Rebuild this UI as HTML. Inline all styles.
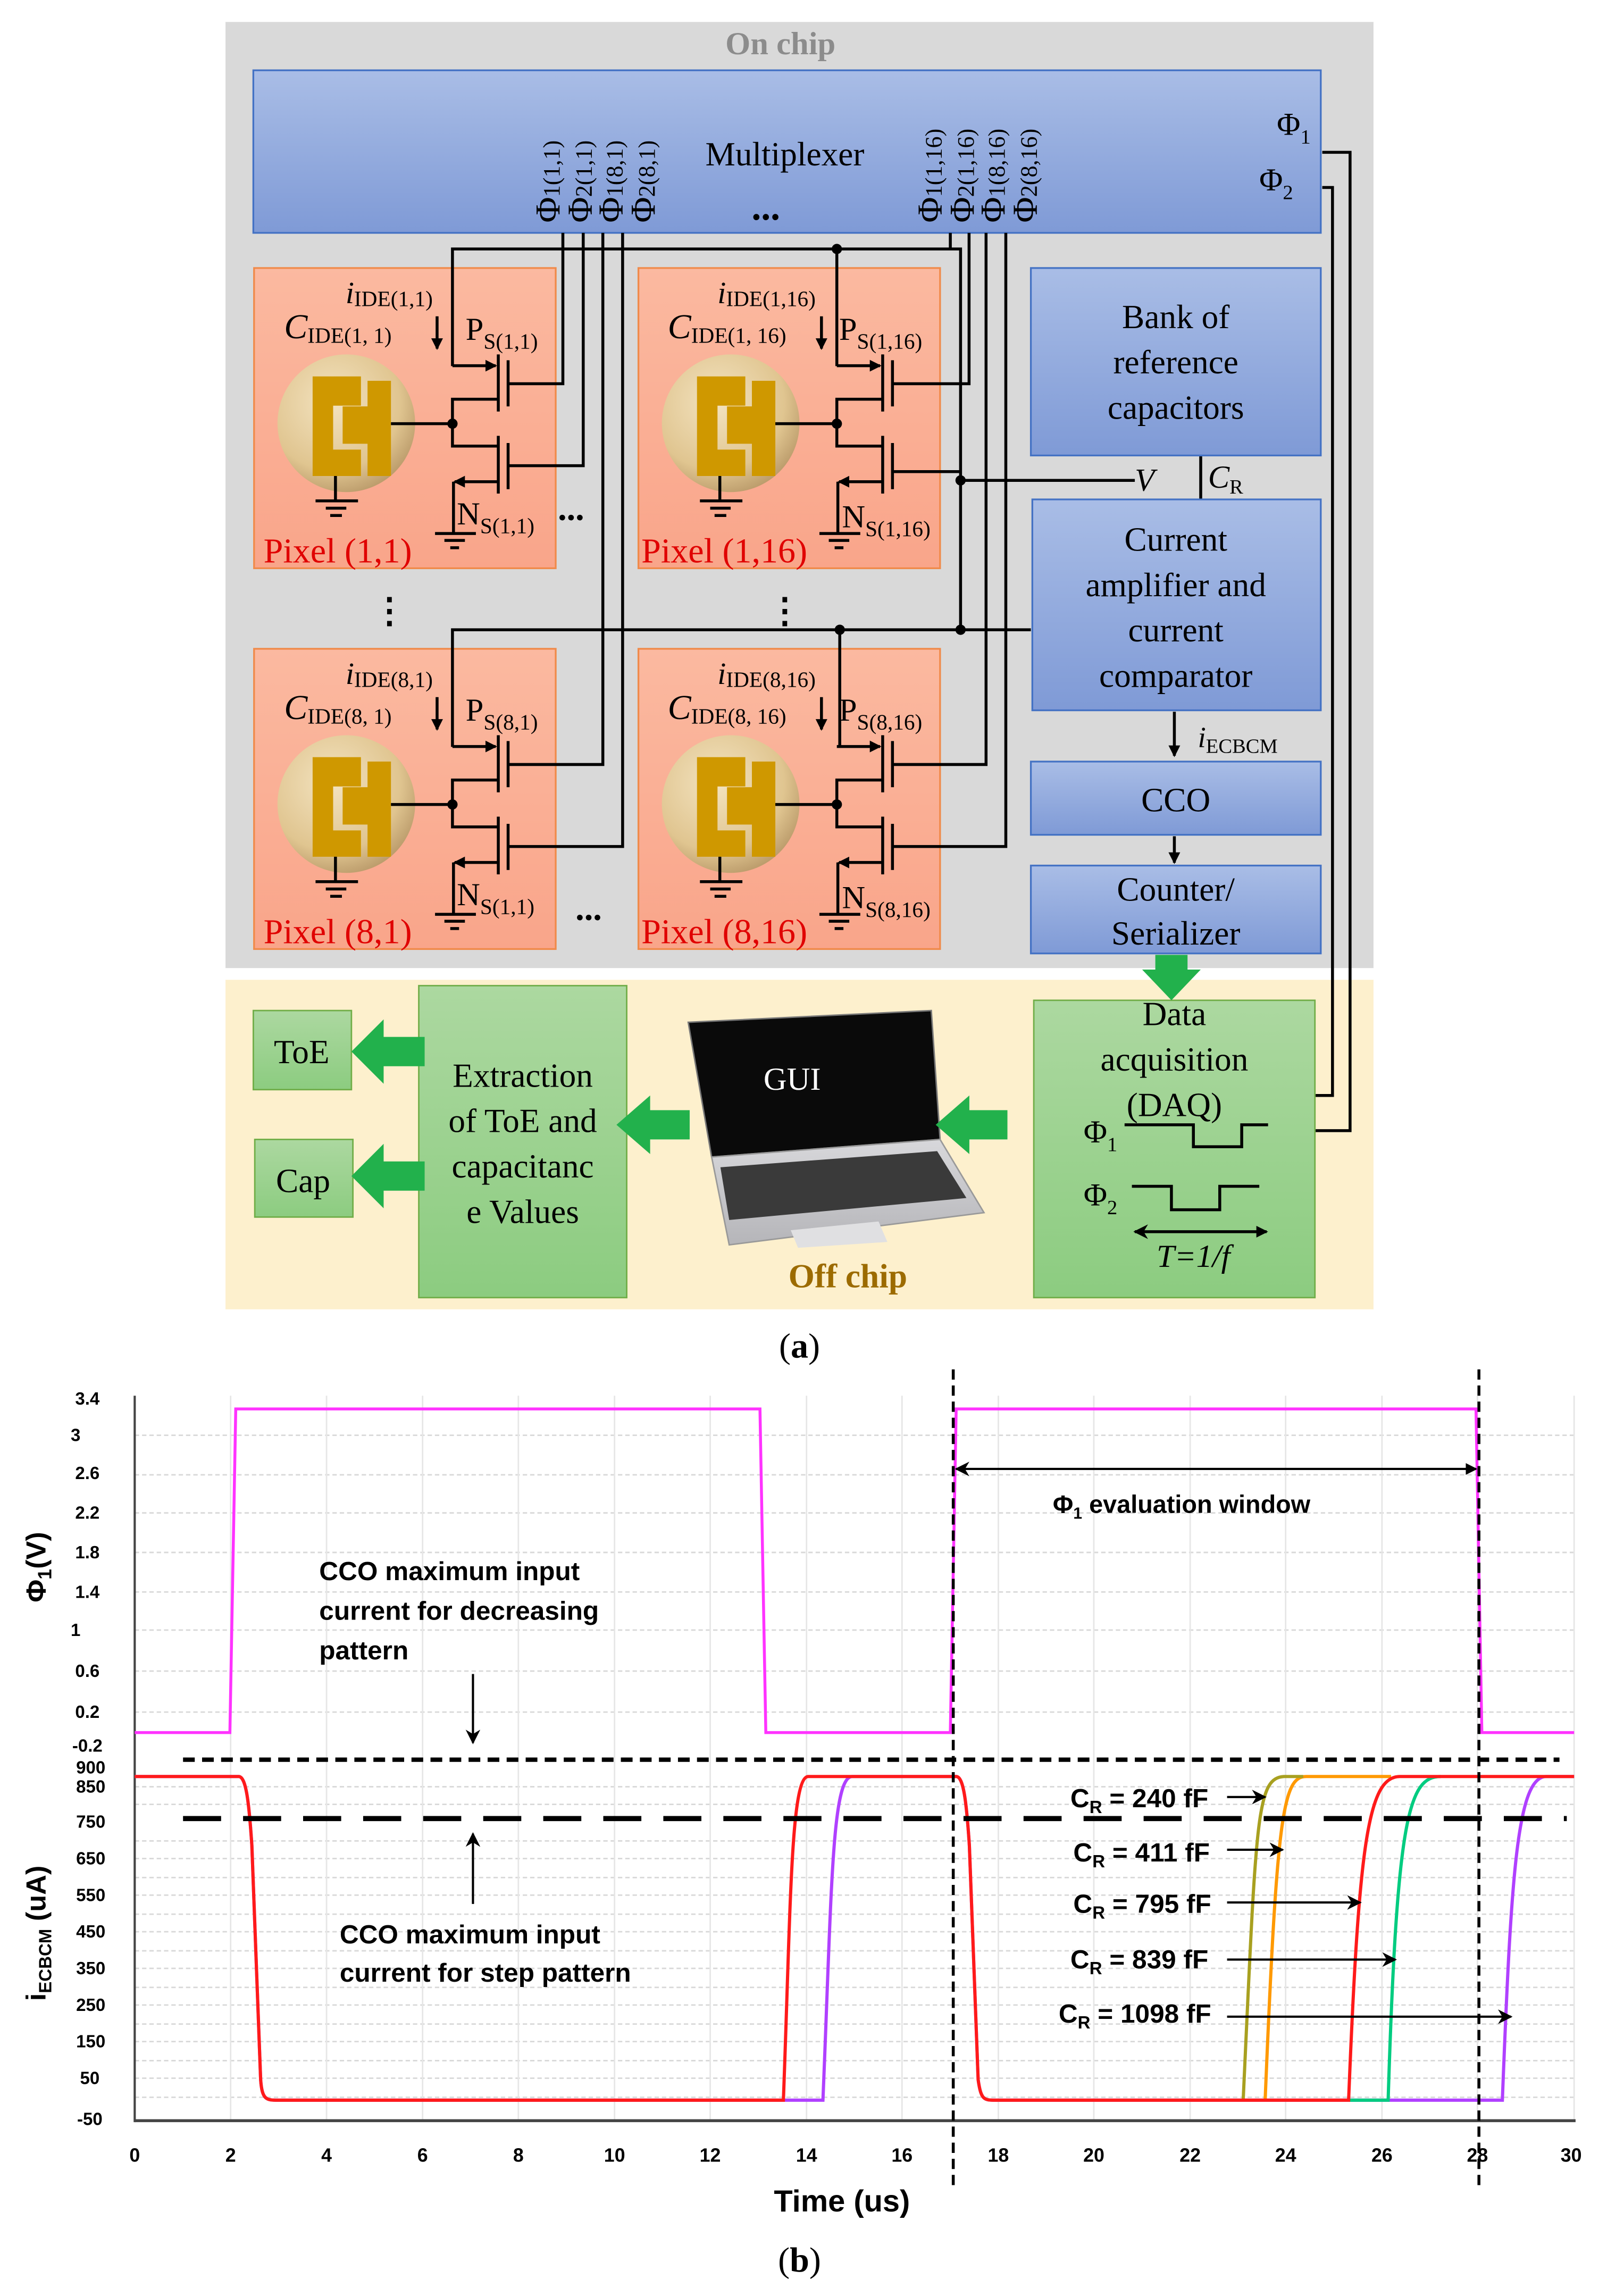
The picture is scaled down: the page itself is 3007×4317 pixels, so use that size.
<!DOCTYPE html>
<html><head><meta charset="utf-8"><style>
html,body{margin:0;padding:0;background:#fff}
svg{display:block}
.s{font-family:"Liberation Serif",serif}
.b{font-family:"Liberation Sans",sans-serif;font-weight:bold}
</style></head><body>
<svg width="3007" height="4317" viewBox="0 0 1092 1567.7" preserveAspectRatio="none" xmlns="http://www.w3.org/2000/svg">
<defs>
<linearGradient id="blue" x1="0" y1="0" x2="0" y2="1"><stop offset="0" stop-color="#a9bde6"/><stop offset="1" stop-color="#7f9ad6"/></linearGradient>
<linearGradient id="pix" x1="0" y1="0" x2="0" y2="1"><stop offset="0" stop-color="#fbb9a0"/><stop offset="1" stop-color="#f9a58a"/></linearGradient>
<linearGradient id="grn" x1="0" y1="0" x2="0" y2="1"><stop offset="0" stop-color="#acd8a0"/><stop offset="1" stop-color="#8ccc80"/></linearGradient>
<linearGradient id="silver" x1="0" y1="0" x2="0" y2="1"><stop offset="0" stop-color="#d8d8db"/><stop offset="1" stop-color="#b5b5b9"/></linearGradient>
<radialGradient id="gold" cx="0.4" cy="0.35" r="0.7"><stop offset="0" stop-color="#f3e3c0"/><stop offset="0.7" stop-color="#e0c590"/><stop offset="1" stop-color="#b89868"/></radialGradient>
<marker id="ar" markerWidth="8" markerHeight="8" refX="7" refY="4" orient="auto" markerUnits="userSpaceOnUse"><path d="M0,0 L8,4 L0,8 Z" fill="#000"/></marker>
<marker id="ar2" markerWidth="10" markerHeight="10" refX="9" refY="5" orient="auto" markerUnits="userSpaceOnUse"><path d="M0,0 L10,5 L0,10 L3,5 Z" fill="#000"/></marker>
<marker id="arS" markerWidth="10" markerHeight="10" refX="1" refY="5" orient="auto" markerUnits="userSpaceOnUse"><path d="M10,0 L0,5 L10,10 L7,5 Z" fill="#000"/></marker>
<g id="pixel">
<rect x="0" y="0" width="206" height="205" fill="url(#pix)" stroke="#f08a4a" stroke-width="1.2"/>
<circle cx="63" cy="106" r="47" fill="url(#gold)"/>
<path d="M40,74 H73 V94 H54 V124 H73 V142 H40 Z" fill="#cf9800"/>
<path d="M77.5,77 H93.5 V142 H77.5 V120 H60.5 V94.5 H77.5 Z" fill="#cf9800"/>
<g stroke="#000" stroke-width="2" fill="none">
<line x1="93.5" y1="106.3" x2="135.5" y2="106.3"/>
<polyline points="166.8,89.6 135.5,89.6 135.5,121.6 166.8,121.6"/>
<line x1="166.8" y1="59" x2="166.8" y2="98"/>
<line x1="173.5" y1="63" x2="173.5" y2="94.5"/>
<line x1="166.8" y1="114.6" x2="166.8" y2="154"/>
<line x1="173.5" y1="119.5" x2="173.5" y2="151"/>
<line x1="135.5" y1="66.7" x2="165" y2="66.7" marker-end="url(#ar)"/>
<line x1="166.8" y1="145.9" x2="137" y2="145.9" marker-end="url(#ar)"/>
<line x1="136.2" y1="145.9" x2="136.2" y2="181.3"/>
<line x1="123.6" y1="181.3" x2="151.5" y2="181.3"/>
<line x1="130" y1="186" x2="144" y2="186"/>
<line x1="134" y1="191" x2="140" y2="191"/>
<line x1="55.6" y1="142" x2="55.6" y2="159"/>
<line x1="42" y1="159" x2="71" y2="159"/>
<line x1="49" y1="164" x2="63" y2="164"/>
<line x1="52" y1="169" x2="60" y2="169"/>
<line x1="125" y1="33" x2="125" y2="55" marker-end="url(#ar)"/>
</g>
<circle cx="135.5" cy="106.3" r="3.5" fill="#000"/>
</g>
</defs>

<!-- On chip -->
<rect x="154" y="15" width="784" height="646" fill="#d9d9d9"/>
<text x="533" y="37" class="s" font-size="22" font-weight="bold" fill="#8c8c8c" text-anchor="middle">On chip</text>
<rect x="173" y="48" width="729" height="111" fill="url(#blue)" stroke="#4472c4" stroke-width="1.2"/>
<text x="536" y="113" class="s" font-size="23" text-anchor="middle">Multiplexer</text>
<text x="523" y="150" class="s" font-size="26" font-weight="bold" text-anchor="middle">...</text>
<text x="872" y="92" class="s" font-size="22">Φ<tspan font-size="14" dy="6">1</tspan></text>
<text x="860" y="130" class="s" font-size="22">Φ<tspan font-size="14" dy="6">2</tspan></text>
<g class="s" font-size="24">
<text transform="translate(382,152) rotate(-90)">Φ<tspan font-size="16">1(1,1)</tspan></text>
<text transform="translate(404,152) rotate(-90)">Φ<tspan font-size="16">2(1,1)</tspan></text>
<text transform="translate(425,152) rotate(-90)">Φ<tspan font-size="16">1(8,1)</tspan></text>
<text transform="translate(447,152) rotate(-90)">Φ<tspan font-size="16">2(8,1)</tspan></text>
<text transform="translate(643,152) rotate(-90)">Φ<tspan font-size="16">1(1,16)</tspan></text>
<text transform="translate(665,152) rotate(-90)">Φ<tspan font-size="16">2(1,16)</tspan></text>
<text transform="translate(686,152) rotate(-90)">Φ<tspan font-size="16">1(8,16)</tspan></text>
<text transform="translate(708,152) rotate(-90)">Φ<tspan font-size="16">2(8,16)</tspan></text>
</g>

<!-- pixels -->
<use href="#pixel" x="173.5" y="183"/>
<use href="#pixel" x="436" y="183"/>
<use href="#pixel" x="173.5" y="443"/>
<use href="#pixel" x="436" y="443"/>

<!-- Off chip background -->
<rect x="154" y="669" width="784" height="225" fill="#fdf0cd"/>

<!-- wiring -->
<g stroke="#000" stroke-width="2" fill="none">
<polyline points="309,250 309,170 656,170 656,430"/>
<polyline points="571.5,170 571.5,250"/>
<polyline points="309,510 309,430 704,430"/>
<polyline points="573.5,430 573.5,510"/>
<polyline points="656,328 775,328"/>
<polyline points="610,322 656,322"/>
<polyline points="347,262 384.4,262 384.4,159"/>
<polyline points="347,318 398.3,318 398.3,159"/>
<polyline points="347,522 411.7,522 411.7,159"/>
<polyline points="347,578 425.2,578 425.2,159"/>
<polyline points="609.5,262 661.8,262 661.8,159"/>
<polyline points="649,159 649,170"/>
<polyline points="609.5,522 673.4,522 673.4,159"/>
<polyline points="609.5,578 686.9,578 686.9,159"/>
<polyline points="903,104 922,104 922,772 898,772"/>
<polyline points="903,128 910,128 910,748 898,748"/>
<line x1="820" y1="311" x2="820" y2="341"/>
<line x1="802" y1="486" x2="802" y2="516" marker-end="url(#ar)"/>
<line x1="802" y1="571" x2="802" y2="589" marker-end="url(#ar)"/>
</g>
<circle cx="571.5" cy="170" r="3.5"/><circle cx="656" cy="328" r="3.5"/><circle cx="573.5" cy="430" r="3.5"/><circle cx="656" cy="430" r="3.5"/>

<!-- pixel texts -->
<g class="s" font-size="18">
<text x="236" y="207"><tspan font-style="italic" font-size="21">i</tspan><tspan font-size="15" dy="2">IDE(1,1)</tspan></text>
<text x="194" y="231"><tspan font-style="italic" font-size="24">C</tspan><tspan font-size="15" dy="3">IDE(1, 1)</tspan></text>
<text x="318" y="232"><tspan font-size="22">P</tspan><tspan font-size="15" dy="6">S(1,1)</tspan></text>
<text x="312" y="358"><tspan font-size="22">N</tspan><tspan font-size="15" dy="6">S(1,1)</tspan></text>
<text x="180" y="384" fill="#e00000" font-size="24">Pixel (1,1)</text>
<text x="490" y="207"><tspan font-style="italic" font-size="21">i</tspan><tspan font-size="15" dy="2">IDE(1,16)</tspan></text>
<text x="456" y="231"><tspan font-style="italic" font-size="24">C</tspan><tspan font-size="15" dy="3">IDE(1, 16)</tspan></text>
<text x="573" y="232"><tspan font-size="22">P</tspan><tspan font-size="15" dy="6">S(1,16)</tspan></text>
<text x="575" y="360"><tspan font-size="22">N</tspan><tspan font-size="15" dy="6">S(1,16)</tspan></text>
<text x="438" y="384" fill="#e00000" font-size="24">Pixel (1,16)</text>
<text x="236" y="467"><tspan font-style="italic" font-size="21">i</tspan><tspan font-size="15" dy="2">IDE(8,1)</tspan></text>
<text x="194" y="491"><tspan font-style="italic" font-size="24">C</tspan><tspan font-size="15" dy="3">IDE(8, 1)</tspan></text>
<text x="318" y="492"><tspan font-size="22">P</tspan><tspan font-size="15" dy="6">S(8,1)</tspan></text>
<text x="312" y="618"><tspan font-size="22">N</tspan><tspan font-size="15" dy="6">S(1,1)</tspan></text>
<text x="180" y="644" fill="#e00000" font-size="24">Pixel (8,1)</text>
<text x="490" y="467"><tspan font-style="italic" font-size="21">i</tspan><tspan font-size="15" dy="2">IDE(8,16)</tspan></text>
<text x="456" y="491"><tspan font-style="italic" font-size="24">C</tspan><tspan font-size="15" dy="3">IDE(8, 16)</tspan></text>
<text x="573" y="492"><tspan font-size="22">P</tspan><tspan font-size="15" dy="6">S(8,16)</tspan></text>
<text x="575" y="620"><tspan font-size="22">N</tspan><tspan font-size="15" dy="6">S(8,16)</tspan></text>
<text x="438" y="644" fill="#e00000" font-size="24">Pixel (8,16)</text>
</g>
<g class="s" font-size="24" font-weight="bold">
<text x="381" y="355">...</text><text x="393" y="628">...</text>
<text x="266" y="425" text-anchor="middle">⋮</text><text x="536" y="425" text-anchor="middle">⋮</text>
</g>

<!-- right blocks -->
<rect x="704" y="183" width="198" height="128" fill="url(#blue)" stroke="#4472c4" stroke-width="1.2"/>
<rect x="705" y="341" width="197" height="144" fill="url(#blue)" stroke="#4472c4" stroke-width="1.2"/>
<rect x="704" y="520" width="198" height="50" fill="url(#blue)" stroke="#4472c4" stroke-width="1.2"/>
<rect x="704" y="591" width="198" height="60" fill="url(#blue)" stroke="#4472c4" stroke-width="1.2"/>
<g class="s" font-size="23" text-anchor="middle">
<text x="803" y="224">Bank of</text><text x="803" y="255">reference</text><text x="803" y="286">capacitors</text>
<text x="803" y="376">Current</text><text x="803" y="407">amplifier and</text><text x="803" y="438">current</text><text x="803" y="469">comparator</text>
<text x="803" y="554">CCO</text>
<text x="803" y="615">Counter/</text><text x="803" y="645">Serializer</text>
</g>
<text x="775" y="335" class="s" font-size="22" font-style="italic">V</text>
<text x="825" y="333" class="s" font-size="22" font-style="italic">C<tspan font-size="14" dy="4" font-style="normal">R</tspan></text>
<text x="818" y="510" class="s" font-size="20" font-style="italic">i<tspan font-size="14" dy="4" font-style="normal">ECBCM</tspan></text>

<!-- Off chip boxes -->
<rect x="173" y="690" width="67" height="54" fill="url(#grn)" stroke="#70ad47"/>
<rect x="174" y="778" width="67" height="53" fill="url(#grn)" stroke="#70ad47"/>
<rect x="286" y="673" width="142" height="213" fill="url(#grn)" stroke="#70ad47"/>
<rect x="706" y="683" width="192" height="203" fill="url(#grn)" stroke="#70ad47"/>
<!-- laptop -->
<polygon points="470,698 636,690 642,778 486,790" fill="#0a0a0a" stroke="#777" stroke-width="1"/>
<polygon points="486,790 642,778 672,828 498,850" fill="url(#silver)" stroke="#999"/>
<polygon points="492,797 640,786 660,818 498,833" fill="#3a3a3a"/>
<polygon points="540,840 600,834 606,848 545,852" fill="#e0e0e2"/>
<text x="541" y="744" class="s" font-size="22" fill="#fff" text-anchor="middle">GUI</text>
<g class="s" font-size="23" text-anchor="middle">
<text x="206" y="726">ToE</text><text x="207" y="814">Cap</text>
<text x="357" y="742">Extraction</text><text x="357" y="773">of ToE and</text><text x="357" y="804">capacitanc</text><text x="357" y="835">e Values</text>
<text x="802" y="700">Data</text><text x="802" y="731">acquisition</text><text x="802" y="762">(DAQ)</text>
<text x="579" y="879" fill="#9c6b00" font-weight="bold">Off chip</text>
</g>
<text x="740" y="780" class="s" font-size="22">Φ<tspan font-size="14" dy="6">1</tspan></text>
<text x="740" y="823" class="s" font-size="22">Φ<tspan font-size="14" dy="6">2</tspan></text>
<g stroke="#000" stroke-width="2" fill="none">
<polyline points="768,768 815,768 815,783 848,783 848,768 866,768"/>
<polyline points="773,810 800,810 800,826 833,826 833,810 860,810"/>
<line x1="775" y1="841" x2="865" y2="841" marker-end="url(#ar)" marker-start="url(#arS)"/>
</g>
<text x="815" y="865" class="s" font-size="22" font-style="italic" text-anchor="middle">T=1/f</text>
<g fill="#22b14c">
<polygon points="789,652 811,652 811,662 820,662 800,683 780,662 789,662"/>
<polygon points="688,758 688,778 662,778 662,788 639,768 662,748 662,758"/>
<polygon points="471,758 471,778 444,778 444,788 421,768 444,748 444,758"/>
<polygon points="290,708 290,728 262,728 262,740 240,718 262,696 262,708"/>
<polygon points="290,793 290,813 262,813 262,825 240,803 262,781 262,793"/>
</g>
<text x="546" y="927" class="s" font-size="24" text-anchor="middle">(<tspan font-weight="bold">a</tspan>)</text>

<!-- Graph (b) -->
<rect x="92" y="950" width="984" height="498" fill="#fff"/>
<g stroke="#d8d8d8" stroke-width="1" stroke-dasharray="3,2">
<line x1="92" y1="980" x2="1075" y2="980"/><line x1="92" y1="1007" x2="1075" y2="1007"/><line x1="92" y1="1033" x2="1075" y2="1033"/><line x1="92" y1="1060" x2="1075" y2="1060"/><line x1="92" y1="1087" x2="1075" y2="1087"/><line x1="92" y1="1113" x2="1075" y2="1113"/><line x1="92" y1="1141" x2="1075" y2="1141"/><line x1="92" y1="1169" x2="1075" y2="1169"/>
<line x1="92" y1="1220" x2="1075" y2="1220"/><line x1="92" y1="1232" x2="1075" y2="1232"/><line x1="92" y1="1257" x2="1075" y2="1257"/><line x1="92" y1="1269" x2="1075" y2="1269"/><line x1="92" y1="1282" x2="1075" y2="1282"/><line x1="92" y1="1294" x2="1075" y2="1294"/><line x1="92" y1="1307" x2="1075" y2="1307"/><line x1="92" y1="1319" x2="1075" y2="1319"/><line x1="92" y1="1332" x2="1075" y2="1332"/><line x1="92" y1="1344" x2="1075" y2="1344"/><line x1="92" y1="1357" x2="1075" y2="1357"/><line x1="92" y1="1369" x2="1075" y2="1369"/><line x1="92" y1="1382" x2="1075" y2="1382"/><line x1="92" y1="1394" x2="1075" y2="1394"/><line x1="92" y1="1407" x2="1075" y2="1407"/><line x1="92" y1="1419" x2="1075" y2="1419"/><line x1="92" y1="1432" x2="1075" y2="1432"/>
</g>
<g stroke="#e6e6e6" stroke-width="1">
<line x1="157.5" y1="953" x2="157.5" y2="1448"/><line x1="223" y1="953" x2="223" y2="1448"/><line x1="288.6" y1="953" x2="288.6" y2="1448"/><line x1="354" y1="953" x2="354" y2="1448"/><line x1="419.7" y1="953" x2="419.7" y2="1448"/><line x1="485" y1="953" x2="485" y2="1448"/><line x1="550.8" y1="953" x2="550.8" y2="1448"/><line x1="616" y1="953" x2="616" y2="1448"/><line x1="681.8" y1="953" x2="681.8" y2="1448"/><line x1="747" y1="953" x2="747" y2="1448"/><line x1="812.8" y1="953" x2="812.8" y2="1448"/><line x1="878" y1="953" x2="878" y2="1448"/><line x1="943.8" y1="953" x2="943.8" y2="1448"/><line x1="1009" y1="953" x2="1009" y2="1448"/><line x1="1075" y1="953" x2="1075" y2="1448"/>
</g>
<line x1="92" y1="953" x2="92" y2="1449" stroke="#444" stroke-width="1.5"/>
<line x1="92" y1="1448" x2="1076" y2="1448" stroke="#444" stroke-width="2"/>
<g class="b" font-size="12" text-anchor="end">
<text x="68" y="959">3.4</text><text x="55" y="984">3</text><text x="68" y="1010">2.6</text><text x="68" y="1037">2.2</text><text x="68" y="1064">1.8</text><text x="68" y="1091">1.4</text><text x="55" y="1117">1</text><text x="68" y="1145">0.6</text><text x="68" y="1173">0.2</text><text x="70" y="1196">-0.2</text>
<text x="72" y="1211">900</text><text x="72" y="1224">850</text><text x="72" y="1248">750</text><text x="72" y="1273">650</text><text x="72" y="1298">550</text><text x="72" y="1323">450</text><text x="72" y="1348">350</text><text x="72" y="1373">250</text><text x="72" y="1398">150</text><text x="68" y="1423">50</text><text x="70" y="1451">-50</text>
</g>
<g class="b" font-size="13" text-anchor="middle">
<text x="92" y="1476">0</text><text x="157.5" y="1476">2</text><text x="223" y="1476">4</text><text x="288.6" y="1476">6</text><text x="354" y="1476">8</text><text x="419.7" y="1476">10</text><text x="485" y="1476">12</text><text x="550.8" y="1476">14</text><text x="616" y="1476">16</text><text x="681.8" y="1476">18</text><text x="747" y="1476">20</text><text x="812.8" y="1476">22</text><text x="878" y="1476">24</text><text x="943.8" y="1476">26</text><text x="1009" y="1476">28</text><text x="1073" y="1476">30</text>
</g>
<text x="575" y="1510" class="b" font-size="21" text-anchor="middle">Time (us)</text>
<text transform="translate(31,1070) rotate(-90)" class="b" font-size="19" text-anchor="middle">Φ<tspan font-size="13" dy="4">1</tspan><tspan dy="-4">(V)</tspan></text>
<text transform="translate(31,1320) rotate(-90)" class="b" font-size="19" text-anchor="middle">i<tspan font-size="12" dy="4">ECBCM</tspan><tspan dy="-4"> (uA)</tspan></text>

<polyline points="92,1183 157,1183 161,962 519,962 523,1183 649,1183 653,962 1008,962 1012,1183 1075,1183" fill="none" stroke="#ff33ff" stroke-width="2"/>
<g fill="none" stroke-width="2.2">
<path d="M92,1213 L163,1213 C168,1213 170,1230 172,1260 L178,1420 C179,1434 182,1434 190,1434 L562,1434 C568,1290 568,1213 582,1213 L653,1213 C658,1213 660,1230 662,1260 L668,1420 C670,1434 672,1434 680,1434 L1026,1434 C1032,1280 1036,1213 1056,1213 L1075,1213" stroke="#b040ff"/>
<path d="M921,1434 L948,1434 C954,1240 962,1213 984,1213" stroke="#00cc80"/>
<path d="M864,1434 C872,1240 876,1213 892,1213 L950,1213" stroke="#ff9900"/>
<path d="M849,1434 C858,1240 858,1214 877,1213 L890,1213" stroke="#a8a020"/>
<path d="M92,1213 L163,1213 C168,1213 170,1230 172,1260 L178,1420 C179,1434 182,1434 190,1434 L535,1434 C540,1300 540,1213 552,1213 L653,1213 C658,1213 660,1230 662,1260 L668,1420 C670,1434 672,1434 680,1434 L921,1434 C928,1260 934,1213 956,1213 L1075,1213" stroke="#ff1a1a"/>
</g>
<line x1="125" y1="1201.5" x2="1065" y2="1201.5" stroke="#000" stroke-width="3" stroke-dasharray="8,5"/>
<line x1="125" y1="1241.7" x2="1070" y2="1241.7" stroke="#000" stroke-width="3.5" stroke-dasharray="26,15"/>
<line x1="651" y1="935" x2="651" y2="1492" stroke="#000" stroke-width="2" stroke-dasharray="7,4"/>
<line x1="1010" y1="935" x2="1010" y2="1492" stroke="#000" stroke-width="2" stroke-dasharray="7,4"/>
<line x1="653" y1="1003" x2="1008" y2="1003" stroke="#000" stroke-width="1.5" marker-end="url(#ar)" marker-start="url(#arS)"/>
<text x="719" y="1033" class="b" font-size="17">Φ<tspan font-size="11" dy="4">1</tspan><tspan dy="-4"> evaluation window</tspan></text>
<g class="b" font-size="18">
<text x="218" y="1079">CCO maximum input</text><text x="218" y="1106">current for decreasing</text><text x="218" y="1133">pattern</text>
<text x="232" y="1327">CCO maximum input</text><text x="232" y="1353">current for step pattern</text>
</g>
<g stroke="#000" stroke-width="1.5" fill="none">
<line x1="323" y1="1143" x2="323" y2="1190" marker-end="url(#ar2)"/>
<line x1="323" y1="1300" x2="323" y2="1252" marker-end="url(#ar2)"/>
<line x1="838" y1="1227" x2="864" y2="1227" marker-end="url(#ar2)"/>
<line x1="838" y1="1263" x2="876" y2="1263" marker-end="url(#ar2)"/>
<line x1="838" y1="1299" x2="929" y2="1299" marker-end="url(#ar2)"/>
<line x1="838" y1="1338" x2="953" y2="1338" marker-end="url(#ar2)"/>
<line x1="838" y1="1377" x2="1032" y2="1377" marker-end="url(#ar2)"/>
</g>
<g class="b" font-size="18">
<text x="731" y="1234">C<tspan font-size="12" dy="4">R</tspan><tspan dy="-4"> = 240 fF</tspan></text>
<text x="733" y="1271">C<tspan font-size="12" dy="4">R</tspan><tspan dy="-4"> = 411 fF</tspan></text>
<text x="733" y="1306">C<tspan font-size="12" dy="4">R</tspan><tspan dy="-4"> = 795 fF</tspan></text>
<text x="731" y="1344">C<tspan font-size="12" dy="4">R</tspan><tspan dy="-4"> = 839 fF</tspan></text>
<text x="723" y="1381">C<tspan font-size="12" dy="4">R</tspan><tspan dy="-4"> = 1098 fF</tspan></text>
</g>
<text x="546" y="1551" class="s" font-size="24" text-anchor="middle">(<tspan font-weight="bold">b</tspan>)</text>
</svg>
</body></html>
